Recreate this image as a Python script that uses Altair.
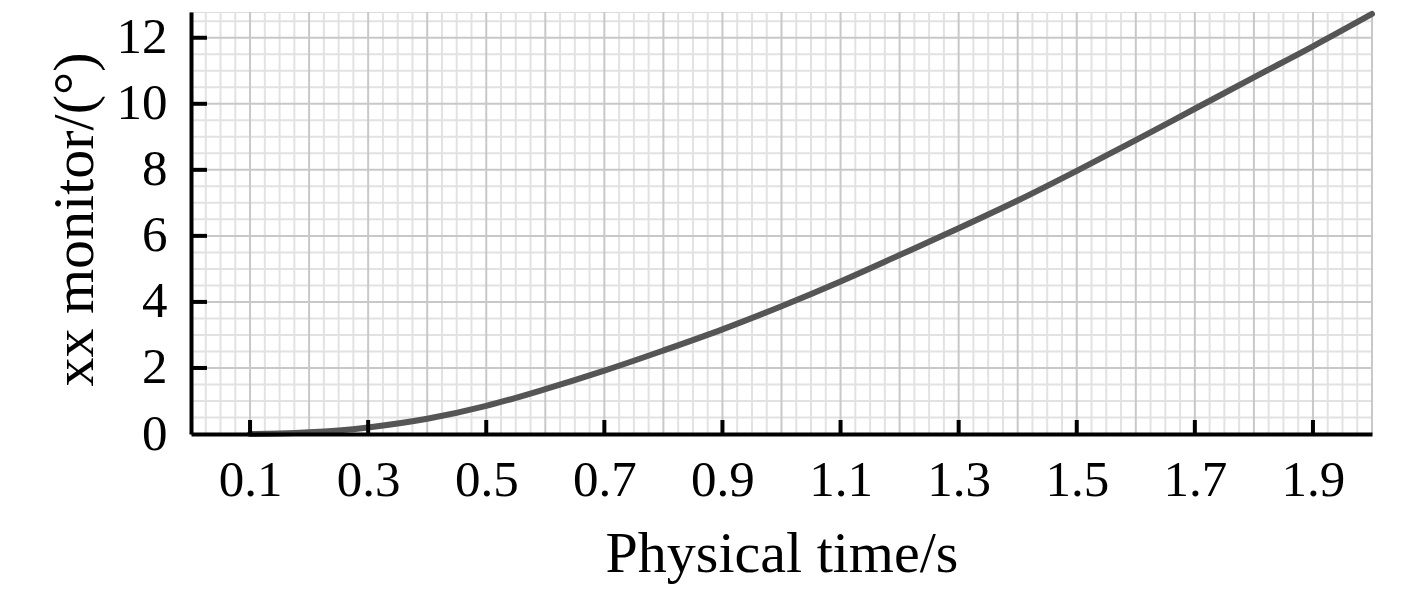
import altair as alt
import pandas as pd

# ---- data ----
time_s = [0.1, 0.15, 0.2, 0.25, 0.3, 0.4, 0.5, 0.6, 0.7, 0.8, 0.9, 1.0,
          1.1, 1.2, 1.3, 1.4, 1.5, 1.6, 1.7, 1.8, 1.9, 2.0]
angle_deg = [0.0, 0.015, 0.05, 0.11, 0.2, 0.46, 0.85, 1.36, 1.92, 2.53, 3.17, 3.87,
             4.62, 5.42, 6.23, 7.07, 7.97, 8.9, 9.85, 10.8, 11.74, 12.72]

x_tick_values = [0.1, 0.3, 0.5, 0.7, 0.9, 1.1, 1.3, 1.5, 1.7, 1.9]
y_tick_values = [0, 2, 4, 6, 8, 10, 12]
y_inner_ticks = [2, 4, 6, 8, 10, 12]

x_domain = [0, 2.0]
y_domain = [0, 12.78]

# grid line positions (major every 0.1 / 2, minor every 0.025 / 0.5)
x_major_grid = [round(i * 0.1, 3) for i in range(0, 21)]
x_minor_grid = [round(i * 0.025, 3) for i in range(0, 81) if i % 4 != 0]
y_major_grid = [0, 2, 4, 6, 8, 10, 12]
y_minor_grid = [round(i * 0.5, 2) for i in range(0, 26) if i % 4 != 0]

W, H = 1181, 422
FONT = "Liberation Serif"

xs = alt.Scale(domain=x_domain, nice=False, zero=False)
ys = alt.Scale(domain=y_domain, nice=False, zero=False)

x_axis = alt.Axis(
    values=x_tick_values, format=".1f", grid=False, ticks=False,
    domain=True, domainColor="black", domainWidth=4,
    labelFont=FONT, labelFontSize=51, labelColor="black", labelPadding=21,
    labelFlush=False, labelBaseline="top",
    title="Physical time/s", titleFont=FONT, titleFontSize=58,
    titleFontWeight="normal", titleColor="black",
    titleBaseline="alphabetic", titleY=137, titleX=W / 2, titleAlign="center",
    zindex=2,
)
y_axis = alt.Axis(
    values=y_tick_values, format="d", grid=False, ticks=False,
    domain=True, domainColor="black", domainWidth=4,
    labelFont=FONT, labelFontSize=51, labelColor="black", labelPadding=24,
    labelFlush=False, labelBaseline="middle",
    title="xx monitor/(°)", titleFont=FONT, titleFontSize=58,
    titleFontWeight="normal", titleColor="black", titleAngle=270,
    titleBaseline="alphabetic", titleAlign="center", titleX=-99, titleY=H / 2 - 4,
    zindex=2,
)

X = lambda: alt.X("t:Q", scale=xs, axis=x_axis)
Y = lambda: alt.Y("v:Q", scale=ys, axis=y_axis)

df_line = pd.DataFrame({"t": time_s, "v": angle_deg})

minor_x = alt.Chart(pd.DataFrame({"t": x_minor_grid})).mark_rule(
    color="#e2e2e2", strokeWidth=2).encode(x=X())
minor_y = alt.Chart(pd.DataFrame({"v": y_minor_grid})).mark_rule(
    color="#e2e2e2", strokeWidth=2).encode(y=Y())
major_x = alt.Chart(pd.DataFrame({"t": x_major_grid})).mark_rule(
    color="#c8c8c8", strokeWidth=2).encode(x=X())
major_y = alt.Chart(pd.DataFrame({"v": y_major_grid})).mark_rule(
    color="#c8c8c8", strokeWidth=2).encode(y=Y())

line = alt.Chart(df_line).mark_line(
    color="#555555", strokeWidth=6, strokeCap="round", interpolate="monotone"
).encode(x=X(), y=Y())

xticks = alt.Chart(pd.DataFrame({"t": x_tick_values})).mark_rule(
    color="black", strokeWidth=4).encode(
    x=X(), y=alt.value(H), y2=alt.value(H - 14))
yticks = alt.Chart(pd.DataFrame({"v": y_inner_ticks})).mark_rule(
    color="black", strokeWidth=4).encode(
    y=Y(), x=alt.value(0), x2=alt.value(16))

chart = alt.layer(minor_x, minor_y, major_x, major_y, line, xticks, yticks).properties(
    width=W, height=H,
    autosize=alt.AutoSizeParams(type="none"),
    padding={"left": 183, "top": 4, "right": 30, "bottom": 158},
).configure_view(stroke=None).configure(background="white")

chart.save("out.html", embed_options={"renderer": "svg", "actions": False})
